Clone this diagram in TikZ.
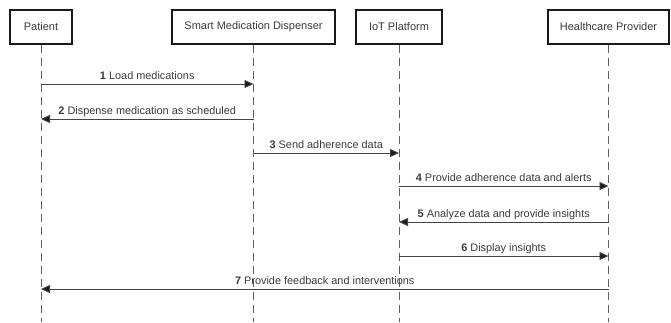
\documentclass[tikz,border=0pt]{standalone}
\usepackage{fontspec}
\setmainfont{Liberation Sans}
\usetikzlibrary{arrows.meta,calc}
\definecolor{inkdark}{HTML}{1A1A1A}
\definecolor{textgray}{HTML}{3A3A3A}
\definecolor{linegray}{HTML}{444444}
\tikzset{
  actor/.style={draw=inkdark, line width=1.4pt, fill=white, minimum height=34pt,
    inner sep=0pt, font=\fontsize{11}{13}\selectfont, text=textgray},
  lifeline/.style={draw=linegray!85, line width=0.8pt, dash pattern=on 8pt off 5pt},
  msg/.style={draw=linegray, line width=0.9pt,
    -{Triangle[length=9pt,width=8pt,fill=inkdark]}},
  msglabel/.style={font=\fontsize{10.9}{13}\selectfont, text=textgray, anchor=base, inner sep=0pt}
}
\begin{document}
\begin{tikzpicture}[x=1pt,y=-1pt]
  \useasboundingbox (0,0) rectangle (671,322);

  % participants
  \node[actor, minimum width=62pt]  (pat) at (41,27)    {Patient};
  \node[actor, minimum width=163pt] (dis) at (253.5,27) {Smart Medication Dispenser};
  \node[actor, minimum width=86pt]  (iot) at (399,27)   {IoT Platform};
  \node[actor, minimum width=121pt] (hcp) at (608.5,27) {Healthcare Provider};

  % lifeline ends
  \coordinate (patE) at (41,322);
  \coordinate (disE) at (253.5,322);
  \coordinate (iotE) at (399,322);
  \coordinate (hcpE) at (608.5,322);

  \draw[lifeline] (pat.south) -- (patE);
  \draw[lifeline] (dis.south) -- (disE);
  \draw[lifeline] (iot.south) -- (iotE);
  \draw[lifeline] (hcp.south) -- (hcpE);

  % message anchor points on the lifelines
  \coordinate (p1) at (41,84);    \coordinate (d1) at (253.5,84);
  \coordinate (p2) at (41,119);   \coordinate (d2) at (253.5,119);
  \coordinate (d3) at (253.5,153); \coordinate (i3) at (399,153);
  \coordinate (i4) at (399,186);  \coordinate (h4) at (608.5,186);
  \coordinate (i5) at (399,222);  \coordinate (h5) at (608.5,222);
  \coordinate (i6) at (399,256);  \coordinate (h6) at (608.5,256);
  \coordinate (p7) at (41,289);   \coordinate (h7) at (608.5,289);

  % messages
  \draw[msg] (p1) -- (d1);
  \node[msglabel] (m1) at ($(p1)!0.5!(d1)+(0,-5)$) {\textbf{1} Load medications};
  \draw[msg] (d2) -- (p2);
  \node[msglabel] (m2) at ($(p2)!0.5!(d2)+(0,-5)$) {\textbf{2} Dispense medication as scheduled};
  \draw[msg] (d3) -- (i3);
  \node[msglabel] (m3) at ($(d3)!0.5!(i3)+(0,-5)$) {\textbf{3} Send adherence data};
  \draw[msg] (i4) -- (h4);
  \node[msglabel] (m4) at ($(i4)!0.5!(h4)+(0,-5)$) {\textbf{4} Provide adherence data and alerts};
  \draw[msg] (h5) -- (i5);
  \node[msglabel] (m5) at ($(i5)!0.5!(h5)+(0,-5)$) {\textbf{5} Analyze data and provide insights};
  \draw[msg] (i6) -- (h6);
  \node[msglabel] (m6) at ($(i6)!0.5!(h6)+(0,-5)$) {\textbf{6} Display insights};
  \draw[msg] (h7) -- (p7);
  \node[msglabel] (m7) at ($(p7)!0.5!(h7)+(0,-5)$) {\textbf{7} Provide feedback and interventions};
\end{tikzpicture}
\end{document}
